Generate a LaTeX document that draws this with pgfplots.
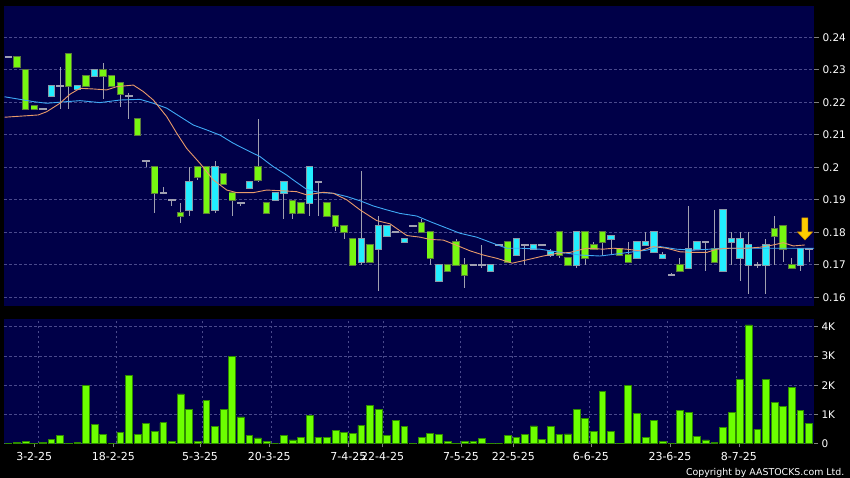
\documentclass[border=0pt]{standalone}
\usepackage{pgfplots}
\pgfplotsset{compat=1.18}
\usepackage{pgfplotstable}
\usepackage{fontspec}
\setmainfont{DejaVu Sans}
\definecolor{navy}{HTML}{000048}
\definecolor{gridc}{HTML}{4A4A8C}
\definecolor{cgreen}{HTML}{77F711}
\definecolor{ccyan}{HTML}{22EEFF}
\definecolor{gout}{HTML}{5C7A3C}
\definecolor{cout}{HTML}{8A9AA8}
\definecolor{wickc}{HTML}{A0A0B0}
\definecolor{maorange}{HTML}{E89A6A}
\definecolor{mablue}{HTML}{3FA9F5}
\definecolor{vgreen}{HTML}{6CFF00}
\definecolor{vout}{HTML}{2E8B00}
\definecolor{arrowy}{HTML}{FFCC00}
\definecolor{arrowo}{HTML}{D08A00}

\pgfplotstableread{
x lo bot top hi
1 0.231 0.231 0.234 0.234
2 0.218 0.218 0.230 0.230
3 0.218 0.218 0.219 0.219
7 0.218 0.225 0.235 0.235
9 0.225 0.225 0.228 0.228
11 0.221 0.228 0.230 0.232
12 0.225 0.225 0.228 0.228
13 0.2185 0.2225 0.226 0.226
15 0.210 0.210 0.215 0.215
17 0.186 0.192 0.200 0.200
20 0.183 0.185 0.186 0.189
22 0.196 0.197 0.200 0.200
23 0.186 0.186 0.200 0.200
25 0.195 0.195 0.198 0.198
26 0.185 0.190 0.192 0.192
29 0.1955 0.196 0.200 0.215
30 0.1855 0.186 0.189 0.189
33 0.184 0.186 0.1895 0.1895
34 0.186 0.186 0.189 0.189
37 0.185 0.185 0.189 0.189
38 0.1805 0.182 0.185 0.185
39 0.178 0.180 0.182 0.182
40 0.170 0.170 0.178 0.178
42 0.171 0.171 0.176 0.176
48 0.180 0.180 0.183 0.184
49 0.170 0.172 0.180 0.180
51 0.168 0.168 0.170 0.170
52 0.170 0.170 0.177 0.178
53 0.163 0.167 0.170 0.172
58 0.171 0.171 0.177 0.177
64 0.172 0.173 0.180 0.180
65 0.170 0.170 0.172 0.172
67 0.170 0.172 0.180 0.180
68 0.175 0.175 0.176 0.177
69 0.173 0.177 0.180 0.180
71 0.173 0.173 0.175 0.175
72 0.171 0.171 0.173 0.177
78 0.168 0.168 0.170 0.172
82 0.171 0.171 0.175 0.187
89 0.170 0.179 0.181 0.185
90 0.171 0.175 0.182 0.182
91 0.169 0.169 0.170 0.172
}\greenc

\pgfplotstableread{
x lo bot top hi
5 0.222 0.222 0.225 0.225
8 0.224 0.224 0.225 0.225
10 0.228 0.228 0.230 0.230
21 0.185 0.187 0.1955 0.200
24 0.186 0.187 0.200 0.202
28 0.1935 0.1935 0.1955 0.1955
31 0.190 0.190 0.192 0.192
32 0.184 0.192 0.1955 0.1955
35 0.185 0.189 0.200 0.200
41 0.170 0.171 0.178 0.199
43 0.162 0.175 0.182 0.185
44 0.179 0.179 0.182 0.182
46 0.177 0.177 0.178 0.178
50 0.165 0.165 0.170 0.170
56 0.168 0.168 0.170 0.170
59 0.173 0.173 0.178 0.178
61 0.175 0.175 0.176 0.176
63 0.1725 0.173 0.174 0.175
66 0.169 0.170 0.180 0.180
70 0.173 0.178 0.179 0.179
73 0.172 0.172 0.177 0.177
74 0.176 0.176 0.177 0.180
75 0.174 0.174 0.180 0.180
76 0.172 0.172 0.173 0.174
79 0.169 0.169 0.175 0.188
80 0.175 0.175 0.177 0.177
83 0.168 0.168 0.187 0.187
84 0.170 0.177 0.178 0.180
85 0.165 0.172 0.178 0.180
86 0.161 0.170 0.176 0.180
88 0.161 0.170 0.176 0.178
92 0.168 0.170 0.175 0.175
}\cyanc

\pgfplotstableread{
x lo p hi
0 0.234 0.234 0.234
4 0.218 0.218 0.218
6 0.218 0.225 0.231
14 0.215 0.222 0.223
16 0.200 0.202 0.202
18 0.192 0.192 0.194
19 0.188 0.190 0.190
27 0.188 0.189 0.189
36 0.185 0.1955 0.1955
45 0.180 0.180 0.180
47 0.182 0.182 0.182
54 0.170 0.170 0.170
55 0.169 0.170 0.176
57 0.176 0.176 0.176
60 0.170 0.176 0.176
62 0.176 0.176 0.176
77 0.167 0.167 0.1675
81 0.168 0.177 0.177
87 0.169 0.170 0.171
93 0.171 0.175 0.175
}\dojic

\pgfplotstableread{
x v
0 0
1 0.05
2 0.07
3 0.01
4 0.03
5 0.15
6 0.28
7 0.01
8 0.03
9 1.99
10 0.66
11 0.32
12 0
13 0.38
14 2.34
15 0.3
16 0.7
17 0.41
18 0.71
19 0.07
20 1.70
21 1.18
22 0.06
23 1.47
24 0.59
25 1.17
26 2.98
27 0.91
28 0.29
29 0.19
30 0.07
31 0
32 0.27
33 0.12
34 0.2
35 0.95
36 0.22
37 0.22
38 0.46
39 0.38
40 0.35
41 0.62
42 1.30
43 1.17
44 0.27
45 0.79
46 0.58
47 0
48 0.2
49 0.35
50 0.3
51 0.07
52 0.01
53 0.06
54 0.07
55 0.17
56 0.01
57 0
58 0.28
59 0.22
60 0.3
61 0.6
62 0.15
63 0.58
64 0.32
65 0.33
66 1.18
67 0.86
68 0.4
69 1.79
70 0.42
71 0.01
72 1.98
73 1.04
74 0.22
75 0.78
76 0.07
77 0.01
78 1.13
79 1.05
80 0.25
81 0.12
82 0.03
83 0.55
84 1.05
85 2.19
86 4.06
87 0.48
88 2.19
89 1.4
90 1.28
91 1.93
92 1.14
93 0.7
}\volc

\pgfplotsset{
  wickstyle/.style={draw=none, mark=none, forget plot,
    error bars/.cd, y dir=both, y explicit, error mark=none,
    error bar style={draw=wickc, line width=1pt, solid}},
  boxstyle/.style 2 args={draw=none, mark=none, forget plot,
    error bars/.cd, y dir=both, y explicit, error mark=none,
    error bar style={draw=#1, line width=#2, solid}},
}

\begin{document}
\begin{tikzpicture}
\fill[black] (0,0) rectangle (850pt,478pt);
\useasboundingbox (0,0) rectangle (850pt,478pt);

\begin{axis}[
  at={(4pt,172pt)}, anchor=south west, scale only axis,
  width=810pt, height=300pt,
  xmin=-0.511, xmax=93.58, ymin=0.15732, ymax=0.24963,
  axis background/.style={fill=navy},
  axis line style={draw=none},
  xtick=\empty,
  minor xtick={3.5,12.5,22.5,30.5,39.5,43.5,52.5,58.5,67.5,76.5,84.5},
  xminorgrids, ymajorgrids,
  minor tick length=0pt,
  grid style={gridc, dash pattern=on 2.5pt off 2.5pt, line width=0.6pt},
  ytick={0.16,0.17,0.18,0.19,0.20,0.21,0.22,0.23,0.24},
  yticklabels={0.16,0.17,0.18,0.19,0.2,0.21,0.22,0.23,0.24},
  ytick pos=right, yticklabel pos=right,
  tick align=outside, major tick length=5pt,
  ytick style={draw=gray, line width=0.6pt, solid},
  yticklabel style={text=white, font=\fontsize{10.5}{12}\selectfont, anchor=west},
]
% wicks
\addplot[wickstyle] table[x=x, y expr={(\thisrow{hi}+\thisrow{lo})/2}, y error expr={(\thisrow{hi}-\thisrow{lo})/2}] {\greenc};
\addplot[wickstyle] table[x=x, y expr={(\thisrow{hi}+\thisrow{lo})/2}, y error expr={(\thisrow{hi}-\thisrow{lo})/2}] {\cyanc};
\addplot[wickstyle] table[x=x, y expr={(\thisrow{hi}+\thisrow{lo})/2}, y error expr={(\thisrow{hi}-\thisrow{lo})/2}] {\dojic};
% doji bars
\addplot[boxstyle={wickc}{7.4pt}] table[x=x, y=p, y error expr={0.00025}] {\dojic};
% box outlines
\addplot[boxstyle={gout}{7.4pt}] table[x=x, y expr={(\thisrow{top}+\thisrow{bot})/2}, y error expr={(\thisrow{top}-\thisrow{bot})/2+0.0003}] {\greenc};
\addplot[boxstyle={cout}{7.4pt}] table[x=x, y expr={(\thisrow{top}+\thisrow{bot})/2}, y error expr={(\thisrow{top}-\thisrow{bot})/2+0.0003}] {\cyanc};
% box fills
\addplot[boxstyle={cgreen}{5.6pt}] table[x=x, y expr={(\thisrow{top}+\thisrow{bot})/2}, y error expr={(\thisrow{top}-\thisrow{bot})/2}] {\greenc};
\addplot[boxstyle={ccyan}{5.6pt}] table[x=x, y expr={(\thisrow{top}+\thisrow{bot})/2}, y error expr={(\thisrow{top}-\thisrow{bot})/2}] {\cyanc};
% moving averages
\addplot[mablue, line width=0.9pt, mark=none] coordinates {
(-0.45,0.2217) (1.35,0.2209) (2.89,0.2202) (4.45,0.2197) (6.77,0.2202) (8.32,0.2205)
(10.64,0.2199) (12.96,0.2207) (15.29,0.2209) (16.83,0.2197) (18.39,0.2182) (19.93,0.2156)
(21.48,0.2130) (23.03,0.2115) (24.58,0.2099) (26.12,0.2074) (27.68,0.2053) (29.22,0.2033)
(30.77,0.2002) (32.33,0.1976) (33.09,0.1961) (34.65,0.1932) (36.19,0.1922) (37.74,0.1920)
(39.30,0.1910) (40.84,0.1897) (42.39,0.1881) (43.94,0.1869) (45.49,0.1858) (47.43,0.1850)
(48.97,0.1833) (50.52,0.1817) (52.46,0.1797) (54.40,0.1785) (56.32,0.1766) (57.88,0.1751)
(59.42,0.1751) (61.75,0.1748) (63.69,0.1740) (66.40,0.1730) (68.72,0.1727) (70.26,0.1732)
(72.59,0.1740) (74.14,0.1745) (75.69,0.1756) (77.63,0.1748) (79.55,0.1745) (81.49,0.1748)
(83.43,0.1751) (93.6,0.1751)
};
\addplot[maorange, line width=0.9pt, mark=none] coordinates {
(-0.45,0.2154) (3.47,0.2161) (4.45,0.2171) (5.99,0.2197) (7.16,0.2225) (8.32,0.2243)
(9.83,0.2241) (11.42,0.2238) (12.58,0.2248) (14.51,0.2253) (15.67,0.2233) (16.83,0.2207)
(18.39,0.2156) (19.55,0.2105) (20.71,0.2058) (22.26,0.2012) (23.80,0.1961) (25.36,0.1930)
(26.52,0.1922) (28.45,0.1922) (30.00,0.1930) (31.55,0.1928) (33.49,0.1925) (34.65,0.1915)
(36.58,0.1923) (37.74,0.1920) (39.30,0.1900) (40.84,0.1869) (42.78,0.1836) (44.33,0.1826)
(46.27,0.1790) (47.81,0.1785) (48.97,0.1778) (50.52,0.1776) (51.68,0.1764) (53.62,0.1743)
(55.16,0.1730) (56.72,0.1720) (58.53,0.1705) (60.20,0.1715) (62.13,0.1727) (63.69,0.1735)
(65.23,0.1738) (67.17,0.1751) (69.10,0.1748) (70.26,0.1751) (71.82,0.1748) (73.36,0.1743)
(74.91,0.1756) (76.46,0.1751) (78.01,0.1740) (79.55,0.1738) (81.11,0.1738) (82.27,0.1748)
(83.82,0.1751) (85.75,0.1751) (87.30,0.1754) (88.84,0.1761) (90.01,0.1768) (91.17,0.1758)
(92.53,0.1761)
};
% arrow marker
\draw[arrowo, fill=arrowy, line width=0.5pt] (axis cs:92.53,0.17763) -- ++(-7.5pt,8pt) -- ++(4.5pt,0pt) -- ++(0pt,14pt) -- ++(6pt,0pt) -- ++(0pt,-14pt) -- ++(4.5pt,0pt) -- cycle;
\end{axis}

\begin{axis}[
  at={(4pt,34.5pt)}, anchor=south west, scale only axis,
  width=810pt, height=124.2pt,
  xmin=-0.511, xmax=93.58, ymin=0, ymax=4.254,
  axis background/.style={fill=navy},
  axis line style={draw=none},
  xtick={3.0,12.19,22.26,30.3,39.5,43.48,52.57,58.65,67.67,76.85,84.86},
  xticklabels={3-2-25,18-2-25,5-3-25,20-3-25,7-4-25,22-4-25,7-5-25,22-5-25,6-6-25,23-6-25,8-7-25},
  minor xtick={3.5,12.5,22.5,30.5,39.5,43.5,52.5,58.5,67.5,76.5,84.5},
  xminorgrids, ymajorgrids, xmajorgrids=false,
  minor tick length=0pt,
  grid style={gridc, dash pattern=on 2.5pt off 2.5pt, line width=0.6pt},
  ytick={0,1,2,3,4}, yticklabels={0,1K,2K,3K,4K},
  ytick pos=right, yticklabel pos=right, xtick pos=left,
  tick align=outside, major tick length=4pt,
  tick style={draw=gray, line width=0.6pt, solid},
  yticklabel style={text=white, font=\fontsize{10.5}{12}\selectfont, anchor=west},
  xticklabel style={text=white, font=\fontsize{11}{13}\selectfont, yshift=-1pt},
]
\addplot[ybar, bar width=6.8pt, fill=vgreen, draw=vout, line width=0.7pt] table[x=x, y=v] {\volc};
\end{axis}

\node[anchor=base east, text=white, font=\fontsize{9.4}{11}\selectfont, inner sep=0pt] at (844.5pt,2.5pt) {Copyright by AASTOCKS.com Ltd.};
\end{tikzpicture}
\end{document}
